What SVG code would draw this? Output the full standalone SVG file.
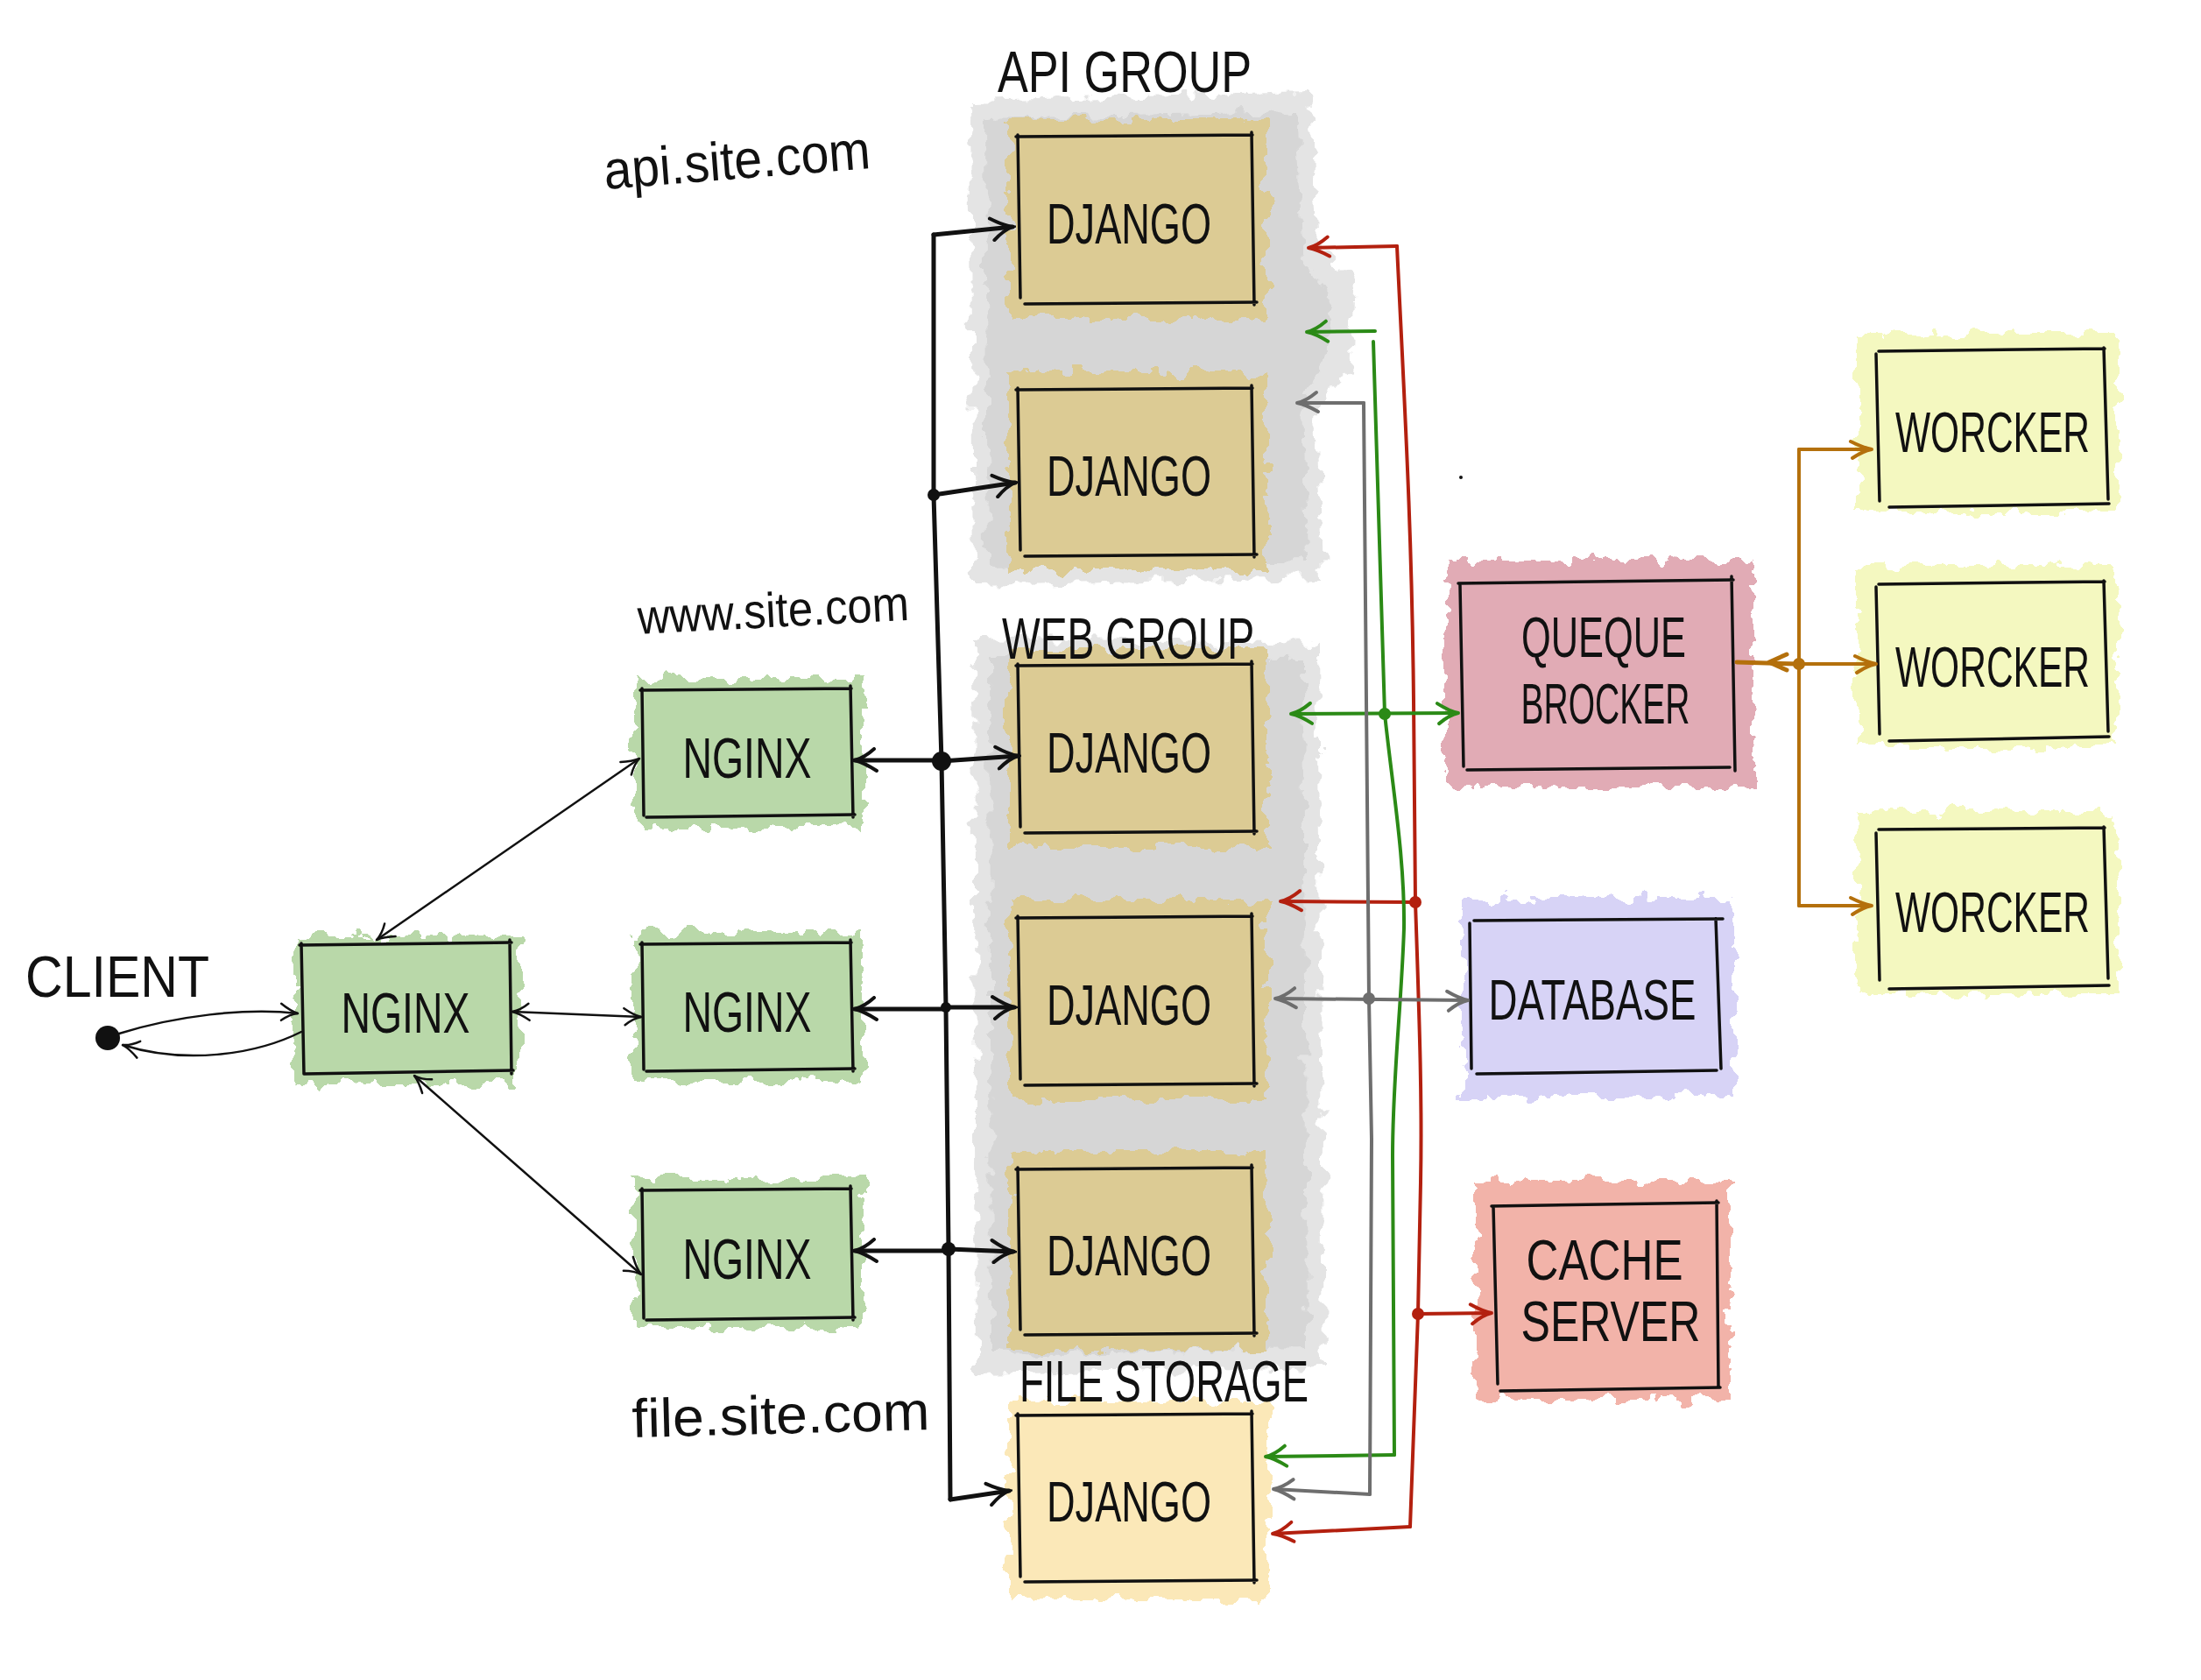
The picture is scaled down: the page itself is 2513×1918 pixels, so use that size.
<svg xmlns="http://www.w3.org/2000/svg" width="2513" height="1918" viewBox="0 0 2513 1918">
<defs>
<filter id="rough" x="-15%" y="-15%" width="130%" height="130%">
<feTurbulence type="fractalNoise" baseFrequency="0.045" numOctaves="3" seed="7" result="n"/>
<feDisplacementMap in="SourceGraphic" in2="n" scale="26" xChannelSelector="R" yChannelSelector="G"/>
</filter>
<marker id="ak" viewBox="-28 -15 32 30" refX="0" refY="0" markerWidth="32" markerHeight="30" markerUnits="userSpaceOnUse" orient="auto-start-reverse"><path d="M-25 -12 Q-11 -3 0 0 Q-11 3 -22 13" fill="none" stroke="#111" stroke-width="4" stroke-linecap="round"/></marker>
<marker id="ak2" viewBox="-22 -13 26 26" refX="0" refY="0" markerWidth="26" markerHeight="26" markerUnits="userSpaceOnUse" orient="auto-start-reverse"><path d="M-20 -9 Q-9 -2 0 0 Q-9 2 -18 10" fill="none" stroke="#111" stroke-width="2.5" stroke-linecap="round"/></marker>
<marker id="ar" viewBox="-28 -15 32 30" refX="0" refY="0" markerWidth="32" markerHeight="30" markerUnits="userSpaceOnUse" orient="auto-start-reverse"><path d="M-24 -10 Q-10 -2 0 0 Q-10 2 -22 12" fill="none" stroke="#b3200f" stroke-width="4" stroke-linecap="round"/></marker>
<marker id="ag" viewBox="-28 -15 32 30" refX="0" refY="0" markerWidth="32" markerHeight="30" markerUnits="userSpaceOnUse" orient="auto-start-reverse"><path d="M-24 -11 Q-10 -2 0 0 Q-10 2 -22 12" fill="none" stroke="#2b8a16" stroke-width="4" stroke-linecap="round"/></marker>
<marker id="ay" viewBox="-28 -15 32 30" refX="0" refY="0" markerWidth="32" markerHeight="30" markerUnits="userSpaceOnUse" orient="auto-start-reverse"><path d="M-24 -10 Q-10 -2 0 0 Q-10 2 -22 12" fill="none" stroke="#6e6e6e" stroke-width="4" stroke-linecap="round"/></marker>
<marker id="ao" viewBox="-28 -15 32 30" refX="0" refY="0" markerWidth="32" markerHeight="30" markerUnits="userSpaceOnUse" orient="auto-start-reverse"><path d="M-24 -9 Q-10 -2 0 0 Q-10 2 -22 10" fill="none" stroke="#b4700c" stroke-width="4" stroke-linecap="round"/></marker>
</defs>
<style>
text{font-family:"Liberation Sans","DejaVu Sans",sans-serif;fill:#111;}
.lbl{font-size:66px;}
.nt{font-size:64px;text-anchor:middle;}
.hand{font-size:62px;}
.box{fill:none;stroke:#111;stroke-width:3.5;stroke-linecap:round;}
.bg{filter:url(#rough);}
.gray1{fill:#e4e4e4;}
.gray2{fill:#d6d6d6;}
.tan{fill:#dccb94;}
.tanl{fill:#fbe8b8;}
.grn{fill:#b9d8a9;}
.pink{fill:#e1abb5;}
.lav{fill:#d7d3f6;}
.sal{fill:#f2b3a9;}
.yel{fill:#f4f8c0;}
.c{fill:none;stroke-linecap:round;stroke-linejoin:round;}
.k{stroke:#111;stroke-width:5;}
.k2{stroke:#111;stroke-width:2.5;}
.r{stroke:#b3200f;stroke-width:4;}
.g{stroke:#2b8a16;stroke-width:4;}
.y{stroke:#6e6e6e;stroke-width:4;}
.o{stroke:#b4700c;stroke-width:4;}
</style>
<rect width="2513" height="1918" fill="#ffffff"/>

<g id="api-group">
<path class="bg gray1" d="M1108 115 L1495 105 L1505 280 L1548 320 L1540 420 L1505 460 L1510 660 L1112 668 Z"/>
<path class="bg gray2" d="M1125 135 L1480 128 L1488 300 L1520 340 L1515 410 L1488 450 L1492 640 L1128 648 Z"/>
</g>
<g id="web-group">
<path class="bg gray1" d="M1112 728 L1505 735 L1512 1560 L1115 1568 Z"/>
<path class="bg gray2" d="M1130 750 L1488 752 L1492 1540 L1132 1546 Z"/>
</g>

<g id="label-api"><text class="hand" x="691" y="216" transform="rotate(-4.5 691 216)" textLength="305" lengthAdjust="spacingAndGlyphs">api.site.com</text></g>
<g id="label-www"><text style="font-size:56px" x="729" y="724" transform="rotate(-3 729 724)" textLength="310" lengthAdjust="spacingAndGlyphs">www.site.com</text></g>
<g id="label-file"><text class="hand" x="722" y="1641" transform="rotate(-1.5 722 1641)" textLength="340" lengthAdjust="spacingAndGlyphs">file.site.com</text></g>

<g id="client">
<text class="lbl" x="29" y="1138" textLength="210" lengthAdjust="spacingAndGlyphs">CLIENT</text>
<circle cx="123" cy="1185" r="14" fill="#111"/>
</g>

<g id="nginx-lb">
<rect class="bg grn" x="336" y="1068" width="258" height="170"/>
<path class="box" d="M342 1079 L584 1076 M582 1073 L584 1226 M348 1226 L586 1222 M344 1077 L347 1226"/>
<text class="nt" x="463" y="1179" textLength="147" lengthAdjust="spacingAndGlyphs">NGINX</text>
</g>
<g id="nginx-www">
<rect class="bg grn" x="724" y="775" width="262" height="170"/>
<path class="box" d="M731 788 L972 786 M971 783 L974 933 M738 933 L976 930 M733 786 L735 931"/>
<text class="nt" x="853" y="888" textLength="147" lengthAdjust="spacingAndGlyphs">NGINX</text>
</g>
<g id="nginx-api">
<rect class="bg grn" x="724" y="1064" width="262" height="170"/>
<path class="box" d="M731 1078 L972 1076 M971 1073 L974 1223 M738 1223 L976 1220 M733 1076 L735 1221"/>
<text class="nt" x="853" y="1178" textLength="147" lengthAdjust="spacingAndGlyphs">NGINX</text>
</g>
<g id="nginx-file">
<rect class="bg grn" x="724" y="1345" width="262" height="172"/>
<path class="box" d="M731 1359 L972 1357 M971 1354 L974 1507 M738 1507 L976 1504 M733 1357 L735 1505"/>
<text class="nt" x="853" y="1460" textLength="147" lengthAdjust="spacingAndGlyphs">NGINX</text>
</g>

<g id="django-api-1">
<rect class="bg tan" x="1152" y="136" width="294" height="228"/>
<path class="box" d="M1160 156 L1430 154 M1429 151 L1432 348 M1170 347 L1435 345 M1162 154 L1165 340"/>
<text class="nt" x="1289" y="278" textLength="188" lengthAdjust="spacingAndGlyphs">DJANGO</text>
</g>
<g id="django-api-2">
<rect class="bg tan" x="1152" y="424" width="294" height="228"/>
<path class="box" d="M1160 445 L1430 443 M1429 440 L1432 636 M1170 635 L1435 633 M1162 443 L1165 628"/>
<text class="nt" x="1289" y="566" textLength="188" lengthAdjust="spacingAndGlyphs">DJANGO</text>
</g>
<g id="django-web-1">
<rect class="bg tan" x="1152" y="740" width="294" height="228"/>
<path class="box" d="M1160 760 L1430 758 M1429 755 L1432 952 M1170 951 L1435 949 M1162 758 L1165 944"/>
<text class="nt" x="1289" y="882" textLength="188" lengthAdjust="spacingAndGlyphs">DJANGO</text>
</g>
<g id="django-web-2">
<rect class="bg tan" x="1152" y="1028" width="294" height="228"/>
<path class="box" d="M1160 1048 L1430 1046 M1429 1043 L1432 1240 M1170 1239 L1435 1237 M1162 1046 L1165 1232"/>
<text class="nt" x="1289" y="1170" textLength="188" lengthAdjust="spacingAndGlyphs">DJANGO</text>
</g>
<g id="django-web-3">
<rect class="bg tan" x="1152" y="1315" width="294" height="226"/>
<path class="box" d="M1160 1335 L1430 1333 M1429 1330 L1432 1525 M1170 1524 L1435 1522 M1162 1333 L1165 1518"/>
<text class="nt" x="1289" y="1456" textLength="188" lengthAdjust="spacingAndGlyphs">DJANGO</text>
</g>
<g id="django-file">
<rect class="bg tanl" x="1152" y="1600" width="296" height="226"/>
<path class="box" d="M1160 1616 L1430 1614 M1429 1611 L1432 1807 M1170 1806 L1435 1804 M1162 1614 L1165 1800"/>
<text class="nt" x="1289" y="1737" textLength="188" lengthAdjust="spacingAndGlyphs">DJANGO</text>
</g>

<g id="group-labels">
<text class="lbl" x="1139" y="105" textLength="290" lengthAdjust="spacingAndGlyphs">API GROUP</text>
<text class="lbl" x="1144" y="752" textLength="288" lengthAdjust="spacingAndGlyphs">WEB GROUP</text>
<text class="lbl" x="1164" y="1600" textLength="330" lengthAdjust="spacingAndGlyphs">FILE STORAGE</text>
</g>

<g id="queue-broker">
<rect class="bg pink" x="1650" y="640" width="352" height="258"/>
<path class="box" d="M1665 666 L1979 662 M1977 658 L1981 880 M1675 879 L1975 876 M1667 668 L1671 875"/>
<text class="nt" x="1831" y="750" textLength="188" lengthAdjust="spacingAndGlyphs">QUEQUE</text>
<text class="nt" x="1833" y="826" textLength="193" lengthAdjust="spacingAndGlyphs">BROCKER</text>
</g>
<g id="database">
<rect class="bg lav" x="1670" y="1025" width="310" height="226"/>
<path class="box" d="M1683 1051 L1967 1049 M1959 1049 L1965 1220 M1686 1226 L1960 1222 M1678 1054 L1680 1220"/>
<text class="nt" x="1818" y="1164" textLength="237" lengthAdjust="spacingAndGlyphs">DATABASE</text>
</g>
<g id="cache-server">
<rect class="bg sal" x="1685" y="1348" width="290" height="250"/>
<path class="box" d="M1703 1377 L1962 1373 M1960 1371 L1962 1583 M1713 1588 L1964 1584 M1705 1377 L1710 1580"/>
<text class="nt" x="1832" y="1461" textLength="179" lengthAdjust="spacingAndGlyphs">CACHE</text>
<text class="nt" x="1839" y="1531" textLength="205" lengthAdjust="spacingAndGlyphs">SERVER</text>
</g>
<g id="worker-1">
<rect class="bg yel" x="2120" y="380" width="298" height="205"/>
<path class="box" d="M2145 401 L2403 398 M2402 397 L2407 570 M2157 579 L2408 575 M2142 404 L2146 572"/>
<text class="nt" x="2275" y="516" textLength="222" lengthAdjust="spacingAndGlyphs">WORCKER</text>
</g>
<g id="worker-2">
<rect class="bg yel" x="2120" y="645" width="298" height="208"/>
<path class="box" d="M2145 667 L2403 664 M2402 663 L2407 835 M2157 846 L2408 841 M2142 670 L2146 838"/>
<text class="nt" x="2275" y="784" textLength="222" lengthAdjust="spacingAndGlyphs">WORCKER</text>
</g>
<g id="worker-3">
<rect class="bg yel" x="2120" y="927" width="298" height="208"/>
<path class="box" d="M2145 947 L2403 945 M2402 944 L2407 1117 M2157 1129 L2408 1125 M2142 951 L2146 1119"/>
<text class="nt" x="2275" y="1064" textLength="222" lengthAdjust="spacingAndGlyphs">WORCKER</text>
</g>

<g id="connectors">
<path class="c k2" d="M136 1180 C200 1160 280 1150 340 1157" marker-end="url(#ak2)"/>
<path class="c k2" d="M344 1178 C290 1205 210 1215 140 1193" marker-end="url(#ak2)"/>
<path class="c k2" d="M430 1073 L730 866" marker-start="url(#ak2)" marker-end="url(#ak2)"/>
<path class="c k2" d="M585 1155 L732 1161" marker-start="url(#ak2)" marker-end="url(#ak2)"/>
<path class="c k2" d="M473 1228 L732 1455" marker-start="url(#ak2)" marker-end="url(#ak2)"/>
<path class="c k" d="M1066 268 L1066 565 L1075 869 L1080 1150 L1083 1426 L1085 1712"/>
<path class="c k" d="M1066 268 L1156 259" marker-end="url(#ak)"/>
<path class="c k" d="M1066 565 L1159 551" marker-end="url(#ak)"/>
<path class="c k" d="M1075 869 L1162 863" marker-end="url(#ak)"/>
<path class="c k" d="M1080 1150 L1158 1150" marker-end="url(#ak)"/>
<path class="c k" d="M1083 1426 L1157 1429" marker-end="url(#ak)"/>
<path class="c k" d="M1085 1712 L1152 1702" marker-end="url(#ak)"/>
<path class="c k" d="M1070 868 L976 868" marker-end="url(#ak)"/>
<path class="c k" d="M1078 1152 L976 1152" marker-end="url(#ak)"/>
<path class="c k" d="M1083 1428 L976 1428" marker-end="url(#ak)"/>
<circle cx="1066" cy="565" r="7" fill="#111"/>
<circle cx="1075" cy="869" r="11" fill="#111"/>
<circle cx="1080" cy="1150" r="6" fill="#111"/>
<circle cx="1083" cy="1426" r="8" fill="#111"/>
<path class="c r" d="M1595 281 C1603 450 1612 600 1614 800 L1616 1030 C1620 1150 1624 1250 1622 1350 L1619 1500 L1610 1743"/>
<path class="c r" d="M1595 281 L1494 283" marker-end="url(#ar)"/>
<path class="c r" d="M1616 1030 L1462 1029" marker-end="url(#ar)"/>
<path class="c r" d="M1619 1500 L1703 1499" marker-end="url(#ar)"/>
<path class="c r" d="M1610 1743 L1453 1751" marker-end="url(#ar)"/>
<circle cx="1616" cy="1030" r="7" fill="#b3200f"/>
<circle cx="1619" cy="1500" r="7" fill="#b3200f"/>
<path class="c g" d="M1568 390 C1574 550 1578 700 1581 815 C1590 900 1604 980 1603 1060 C1600 1150 1590 1230 1590 1320 L1592 1661"/>
<path class="c g" d="M1570 378 L1492 379" marker-end="url(#ag)"/>
<path class="c g" d="M1592 1661 L1445 1663" marker-end="url(#ag)"/>
<path class="c g" d="M1474 815 L1665 814" marker-start="url(#ag)" marker-end="url(#ag)"/>
<circle cx="1581" cy="815" r="7" fill="#2b8a16"/>
<path class="c y" d="M1557 460 L1563 1140 L1566 1300 L1564 1706"/>
<path class="c y" d="M1557 460 L1481 460" marker-end="url(#ay)"/>
<path class="c y" d="M1564 1706 L1454 1700" marker-end="url(#ay)"/>
<path class="c y" d="M1456 1140 L1676 1142" marker-start="url(#ay)" marker-end="url(#ay)"/>
<circle cx="1563" cy="1140" r="7" fill="#6e6e6e"/>
<path class="c o" d="M2054 758 L1983 756" style="stroke-width:5"/>
<path class="c o" d="M2040 747 L2020 756 L2040 765" style="stroke-width:5"/>
<path class="c o" d="M2054 513 L2054 1034"/>
<path class="c o" d="M2054 513 L2137 513" marker-end="url(#ao)"/>
<path class="c o" d="M2054 758 L2142 758" marker-end="url(#ao)"/>
<path class="c o" d="M2054 1034 L2137 1034" marker-end="url(#ao)"/>
<circle cx="2054" cy="758" r="7" fill="#b4700c"/>
</g>
<circle cx="1668" cy="545" r="2" fill="#111"/>
</svg>
